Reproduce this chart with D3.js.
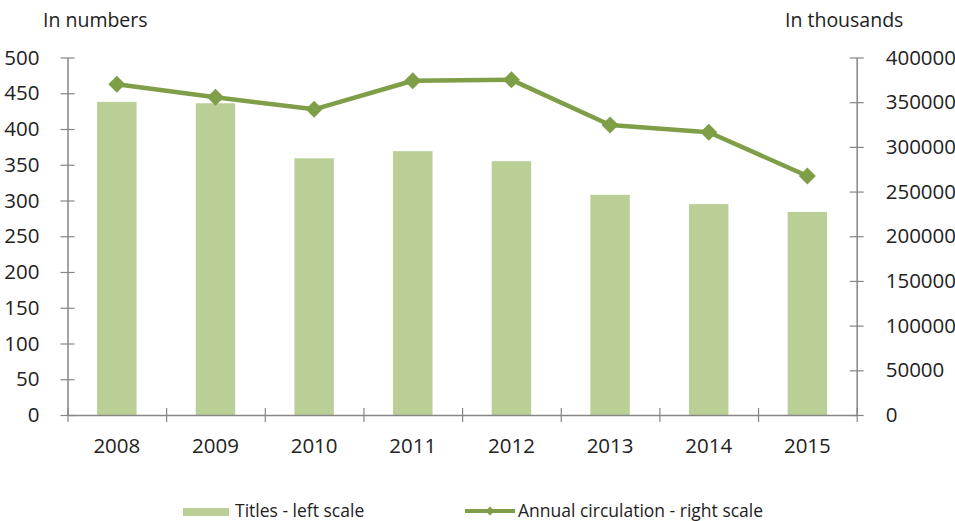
<!DOCTYPE html>
<html>
<head>
<meta charset="utf-8">
<script src="https://cdn.jsdelivr.net/npm/d3@7"></script>
<style>
    body { margin: 0; background: #fff; }
    text { font-family: "Open Sans", sans-serif; fill: #222; }
</style>
</head>
<body>
<div id="main"></div>
<script>
// the chart values
var years = ["2008", "2009", "2010", "2011", "2012", "2013", "2014", "2015"];
var titles = [438, 436, 359, 369, 355, 308, 295, 284];
var circulation = [370000, 355500, 342000, 374000, 375000, 324500, 316300, 267400];
var leftTicks = [0, 50, 100, 150, 200, 250, 300, 350, 400, 450, 500];
var rightTicks = [0, 50000, 100000, 150000, 200000, 250000, 300000, 350000, 400000];

var ctx = {
    w: 955,
    h: 521,
    left: 67.5,
    right: 856.7,
    top: 57.5,
    bottom: 415,
    barColor: "#b9cf96",
    lineColor: "#7f9e48",
    axisColor: "#868686"
};

// diamond marker path centered on 0,0
var diamond = function(r) {
    return "M0," + (-r) + "L" + r + ",0L0," + r + "L" + (-r) + ",0Z";
};

var createChart = function(svg) {
    var x = d3.scaleBand()
        .domain(years)
        .range([ctx.left, ctx.right])
        .paddingInner(0.6)
        .paddingOuter(0.3);

    // a linear scale for the category boundaries (ticks between the bars)
    var xEdge = d3.scaleLinear()
        .domain([0, years.length])
        .range([ctx.left, ctx.right]);

    var yLeft = d3.scaleLinear().domain([0, 500]).range([ctx.bottom, ctx.top]);
    var yRight = d3.scaleLinear().domain([0, 400000]).range([ctx.bottom, ctx.top]);

    // the bars
    svg.append("g").selectAll("rect")
        .data(titles)
        .enter().append("rect")
        .attr("x", function(d, i) { return x(years[i]); })
        .attr("y", function(d) { return yLeft(d); })
        .attr("width", x.bandwidth())
        .attr("height", function(d) { return yLeft(0) - yLeft(d); })
        .style("fill", ctx.barColor);

    // left axis
    var gl = svg.append("g")
        .attr("transform", "translate(" + ctx.left + ",0)")
        .call(d3.axisLeft(yLeft).tickValues(leftTicks).tickSizeOuter(0).tickPadding(22));
    // right axis
    var gr = svg.append("g")
        .attr("transform", "translate(" + ctx.right + ",0)")
        .call(d3.axisRight(yRight).tickValues(rightTicks).tickFormat(d3.format("d")).tickSizeOuter(0).tickPadding(23));
    // bottom axis : boundary ticks
    var gb = svg.append("g")
        .attr("transform", "translate(0," + ctx.bottom + ")")
        .call(d3.axisBottom(xEdge).ticks(years.length).tickFormat("").tickSizeOuter(0));

    // we make the ticks cross the axis lines
    gl.selectAll(".tick line").attr("x1", -7).attr("x2", 7);
    gr.selectAll(".tick line").attr("x1", -7).attr("x2", 7);
    gb.selectAll(".tick line").attr("y1", -7).attr("y2", 7);

    [gl, gr, gb].forEach(function(g) {
        g.selectAll("path.domain").attr("stroke", ctx.axisColor).attr("stroke-width", 1.5);
        g.selectAll(".tick line").attr("stroke", ctx.axisColor).attr("stroke-width", 1.2);
        g.selectAll(".tick text")
            .style("font-size", "20.5px")
            .style("fill", "#222")
            .attr("font-family", null);
    });

    // year labels
    svg.append("g").selectAll("text")
        .data(years)
        .enter().append("text")
        .attr("x", function(d) { return x(d) + x.bandwidth() / 2; })
        .attr("y", 452.5)
        .attr("text-anchor", "middle")
        .style("font-size", "20.5px")
        .text(function(d) { return d; });

    // the circulation line
    var line = d3.line()
        .x(function(d, i) { return x(years[i]) + x.bandwidth() / 2; })
        .y(function(d) { return yRight(d); });

    svg.append("path")
        .datum(circulation)
        .attr("d", line)
        .style("fill", "none")
        .style("stroke", ctx.lineColor)
        .style("stroke-width", 4.5)
        .style("stroke-linejoin", "round");

    svg.append("g").selectAll("path")
        .data(circulation)
        .enter().append("path")
        .attr("d", diamond(8.5))
        .attr("transform", function(d, i) {
            return "translate(" + (x(years[i]) + x.bandwidth() / 2) + "," + yRight(d) + ")";
        })
        .style("fill", ctx.lineColor);

    // axis titles
    svg.append("text").attr("x", 43).attr("y", 27).style("font-size", "19.5px").text("In numbers");
    svg.append("text").attr("x", 785).attr("y", 27).style("font-size", "19.5px").text("In thousands");

    // legend
    var leg = svg.append("g");
    leg.append("rect")
        .attr("x", 183).attr("y", 508).attr("width", 46).attr("height", 8)
        .style("fill", ctx.barColor);
    leg.append("text").attr("x", 235).attr("y", 516.5).style("font-size", "17.5px").text("Titles - left scale");
    leg.append("line")
        .attr("x1", 465).attr("x2", 515).attr("y1", 511).attr("y2", 511)
        .style("stroke", ctx.lineColor).style("stroke-width", 4);
    leg.append("path")
        .attr("d", diamond(4.5))
        .attr("transform", "translate(490,511)")
        .style("fill", ctx.lineColor);
    leg.append("text").attr("x", 518).attr("y", 516.5).style("font-size", "17.5px").text("Annual circulation - right scale");
};

var createViz = function() {
    var svgEl = d3.select("#main").append("svg");
    svgEl.attr("width", ctx.w);
    svgEl.attr("height", ctx.h);
    createChart(svgEl);
};

createViz();
</script>
</body>
</html>
